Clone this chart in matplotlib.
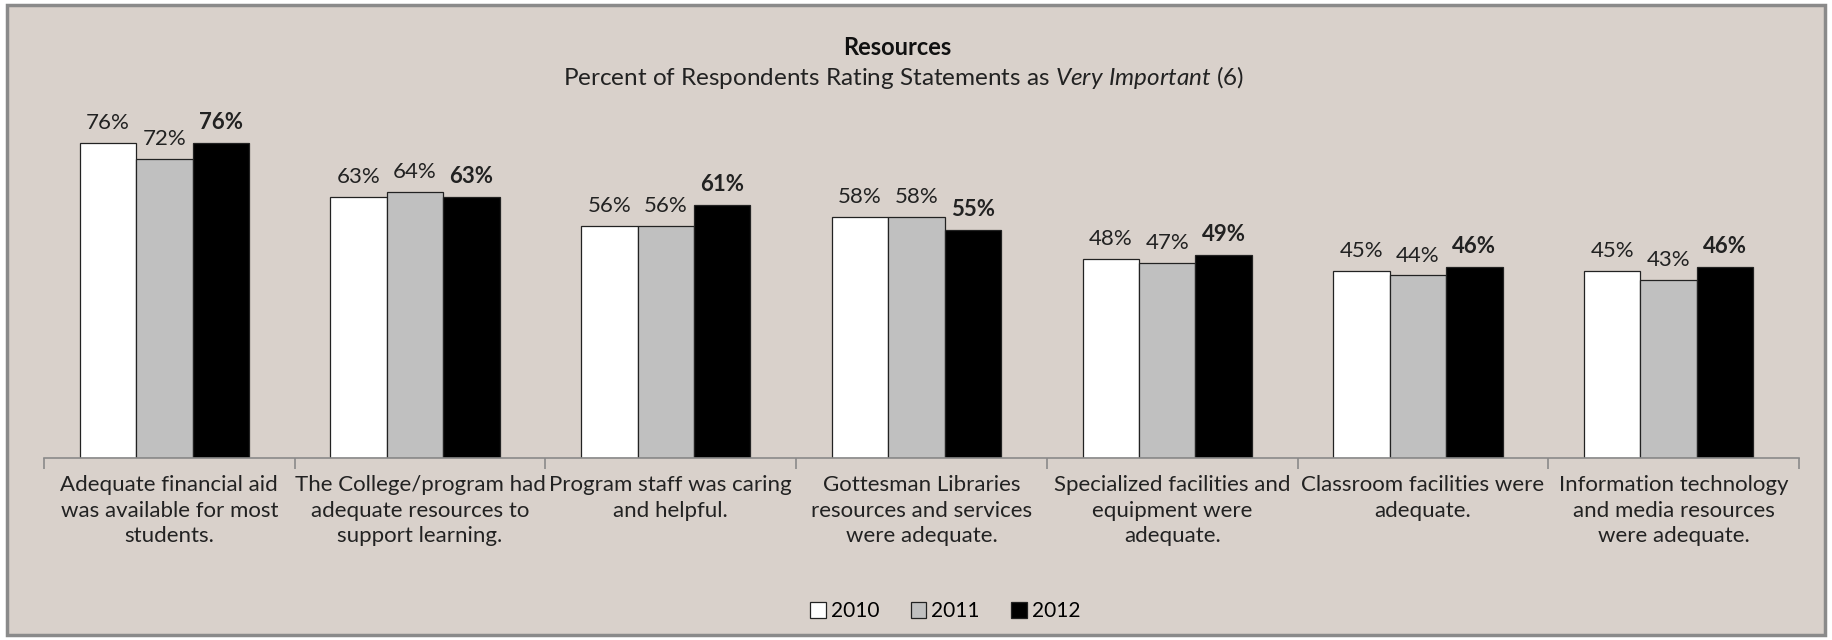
import numpy as np
import matplotlib
matplotlib.use("Agg")
import matplotlib.pyplot as plt
from matplotlib.patches import Rectangle

plt.rcParams['font.family'] = ['Lato', 'DejaVu Sans']
plt.rcParams['mathtext.fontset'] = 'custom'
plt.rcParams['mathtext.rm'] = 'Lato'
plt.rcParams['mathtext.it'] = 'Lato:italic'

categories = [
    "Adequate financial aid\nwas available for most\nstudents.",
    "The College/program had\nadequate resources to\nsupport learning.",
    "Program staff was caring\nand helpful.",
    "Gottesman Libraries\nresources and services\nwere adequate.",
    "Specialized facilities and\nequipment were\nadequate.",
    "Classroom facilities were\nadequate.",
    "Information technology\nand media resources\nwere adequate.",
]
years = ["2010", "2011", "2012"]
v2010 = [76, 63, 56, 58, 48, 45, 45]
v2011 = [72, 64, 56, 58, 47, 44, 43]
v2012 = [76, 63, 61, 55, 49, 46, 46]

bg = "#d9d1cb"
colors = ["#ffffff", "#c0c0c0", "#000000"]

fig = plt.figure(figsize=(18.32, 6.4), dpi=100)
fig.patch.set_facecolor("white")
# chart frame
fig.patches.append(Rectangle((0.004, 0.008), 0.992, 0.984, transform=fig.transFigure,
                             facecolor=bg, edgecolor="#8a8a8a", linewidth=2.5, zorder=-10))

ax = fig.add_axes([0.024, 0.284, 0.958, 0.649])
ax.set_facecolor("none")
x = np.arange(len(categories))
w = 0.225
for k, (vals, c) in enumerate(zip([v2010, v2011, v2012], colors)):
    pos = x + (k - 1) * w - 0.02
    ax.bar(pos, vals, width=w, color=c, edgecolor="#222222", linewidth=0.9, label=years[k], zorder=2)
    for p, v in zip(pos, vals):
        ax.text(p, v + 2.4, f"{v}%", ha="center", va="bottom", fontsize=16,
                color="#222222", fontweight="bold" if k == 2 else "normal")

ax.set_xlim(-0.5, len(categories) - 0.5)
ax.set_ylim(0, 100)
ax.set_yticks([])
for s in ["top", "right", "left"]:
    ax.spines[s].set_visible(False)
ax.spines["bottom"].set_color("#8a8a8a")
ax.spines["bottom"].set_linewidth(1.2)
ax.set_xticks(np.arange(len(categories) + 1) - 0.5)
ax.set_xticklabels([])
ax.tick_params(axis="x", length=8, color="#8a8a8a", width=1.2)
for i, lab in enumerate(categories):
    ax.text(i, -4.0, lab, ha="center", va="top", fontsize=16, color="#222222",
            linespacing=1.36)

fig.text(0.49, 0.926, "Resources", ha="center", va="center", fontsize=17, fontweight="bold", color="#111111")
fig.text(0.493, 0.879, "Percent of Respondents Rating Statements as $\\mathit{Very\\ Important\\ (6)}$",
         ha="center", va="center", fontsize=17.5, color="#222222")

leg = fig.legend(loc="center", bbox_to_anchor=(0.516, 0.045), ncol=3, frameon=False,
                 fontsize=15, handlelength=0.75, handleheight=0.75, handletextpad=0.25,
                 columnspacing=1.5)

fig.savefig("out.png", dpi=100, facecolor=fig.get_facecolor())
